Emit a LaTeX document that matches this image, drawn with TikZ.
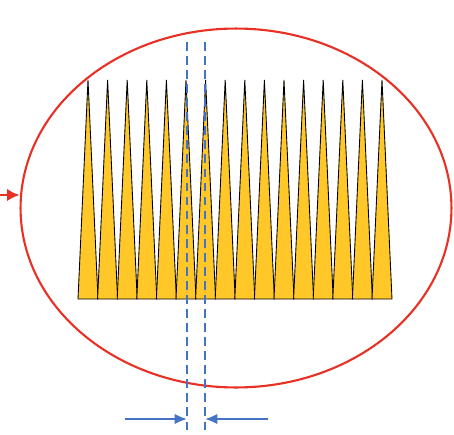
\documentclass[tikz,border=0pt]{standalone}
\usepackage{tikz}
\usetikzlibrary{shapes.geometric, arrows.meta, positioning, calc}

\definecolor{spikeyellow}{RGB}{255,200,40}
\definecolor{ringred}{RGB}{232,48,36}
\definecolor{guideblue}{RGB}{68,114,196}

\begin{document}
\begin{tikzpicture}[
    x=0.02cm, y=-0.02cm,
    spike/.style={fill=spikeyellow, draw=black, line width=0.5pt, line join=miter},
    ring/.style={ellipse, draw=ringred, line width=1.2pt, minimum width=8.62cm, minimum height=7.18cm, inner sep=0pt},
    guide/.style={draw=guideblue, dashed, line width=1pt, dash pattern=on 5pt off 3pt},
    gap/.style={draw=guideblue, line width=1.2pt, -{Latex[length=7pt,width=6pt]}},
    beam/.style={draw=ringred, line width=1.2pt, -{Latex[length=7pt,width=7pt]}}
]
\useasboundingbox (0,0) rectangle (454,434);

% Outline
\node (ring) [ring] at (236,208) {};

% Spikes
\foreach \i in {0,...,15} {
    \pgfmathsetmacro{\tip}{88+19.6*\i}
    \draw [spike] (\tip-10,299) -- (\tip,80) -- (\tip+10,299) -- cycle;
}

% Pitch markers
\coordinate (gl top) at (187,42);
\coordinate (gl bot) at (187,434);
\coordinate (gr top) at (205,42);
\coordinate (gr bot) at (205,434);
\draw [guide] (gl top) -- (gl bot);
\draw [guide] (gr top) -- (gr bot);

\coordinate (pl) at (125,419);
\coordinate (pr) at (268,419);
\draw [gap] (pl) -- (gl top |- pl);
\draw [gap] (pr) -- (gr top |- pr);

% Incoming
\coordinate (src) at (0,195);
\draw [beam] (src) -- (ring.west |- src);

\end{tikzpicture}
\end{document}
